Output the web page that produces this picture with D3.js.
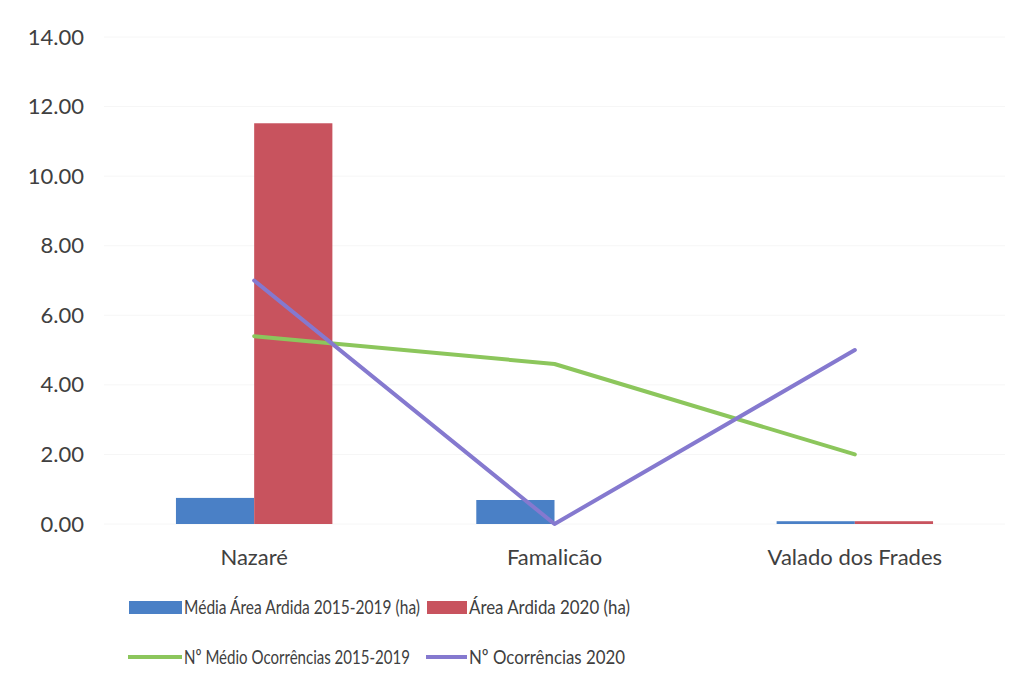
<!DOCTYPE html>
<html>
<head>
<meta charset="utf-8">
<script src="https://cdn.jsdelivr.net/npm/d3@7"></script>
<style>
  html, body { margin: 0; padding: 0; background: #fff; }
  svg { display: block; }
  text { font-family: Lato, "Open Sans", sans-serif; fill: #404040; }
</style>
</head>
<body>
<svg id="chart" width="1023" height="680"></svg>
<script>
// Locations along the x axis
const categories = ["Nazaré", "Famalicão", "Valado dos Frades"];

// Burnt area (ha)
const mediaAreaArdida = [0.75, 0.69, 0.08];
const areaArdida2020 = [11.52, 0.0, 0.08];

// Number of fire occurrences
const medioOcorrencias = [5.4, 4.6, 2.0];
const ocorrencias2020 = [7, 0, 5];

const yTicks = [0, 2, 4, 6, 8, 10, 12, 14];

const barSeries = [
  { name: "Média Área Ardida 2015-2019 (ha)", values: mediaAreaArdida, color: "#4a80c6" },
  { name: "Área Ardida 2020 (ha)", values: areaArdida2020, color: "#c8535e" }
];
const lineSeries = [
  { name: "Nº Médio Ocorrências 2015-2019", values: medioOcorrencias, color: "#8cc65c" },
  { name: "Nº Ocorrências 2020", values: ocorrencias2020, color: "#8579cf" }
];

const svg = d3.select("#chart");
const plot = { left: 104, right: 1005, top: 37, bottom: 524 };

const x = d3.scaleBand().domain(categories).range([plot.left, plot.right]);
const xInner = d3.scaleBand().domain(barSeries.map(s => s.name))
  .range([0, x.bandwidth()]).paddingInner(0).paddingOuter(0.92);
const y = d3.scaleLinear().domain([0, 14]).range([plot.bottom, plot.top]);

// Horizontal gridlines
svg.append("g").selectAll("line").data(yTicks).join("line")
  .attr("x1", plot.left).attr("x2", plot.right)
  .attr("y1", d => y(d)).attr("y2", d => y(d))
  .attr("stroke", "#f6f6f6").attr("stroke-width", 1);

// Y axis labels
const yAxis = d3.axisLeft(y).tickValues(yTicks).tickFormat(d3.format(".2f")).tickSize(0).tickPadding(0);
const gy = svg.append("g").attr("transform", `translate(84,0)`).call(yAxis);
gy.select(".domain").remove();
gy.selectAll("text").style("font-family", "Lato, sans-serif").style("font-size", "22px").attr("fill", "#404040");

// X axis labels
const xAxis = d3.axisBottom(x).tickSize(0).tickPadding(0);
const gx = svg.append("g").attr("transform", `translate(0,${plot.bottom + 25})`).call(xAxis);
gx.select(".domain").remove();
gx.selectAll("text").style("font-family", "Lato, sans-serif").style("font-size", "22px").attr("fill", "#404040");

// Bars
barSeries.forEach(s => {
  svg.append("g").selectAll("rect").data(categories).join("rect")
    .attr("x", (c) => x(c) + xInner(s.name))
    .attr("width", xInner.bandwidth())
    .attr("y", (c, i) => y(s.values[i]))
    .attr("height", (c, i) => Math.max(0, y(0) - y(s.values[i])))
    .attr("fill", s.color);
});

// Lines
const line = d3.line()
  .x((d, i) => x(categories[i]) + x.bandwidth() / 2)
  .y(d => y(d));
lineSeries.forEach(s => {
  svg.append("path").datum(s.values)
    .attr("d", line)
    .attr("fill", "none")
    .attr("stroke", s.color)
    .attr("stroke-width", 4)
    .attr("stroke-linejoin", "round")
    .attr("stroke-linecap", "round");
});

// Legend (two rows: bar series, then line series)
const legendRows = [
  [{ s: barSeries[0], type: "bar", x: 129, tx: 184, w: 236 }, { s: barSeries[1], type: "bar", x: 427, tx: 469, w: 161 }],
  [{ s: lineSeries[0], type: "line", x: 128, tx: 184, w: 226 }, { s: lineSeries[1], type: "line", x: 426, tx: 469, w: 156 }]
];
const rowY = [607, 657];
legendRows.forEach((row, r) => {
  row.forEach(item => {
    const g = svg.append("g");
    const sw = item.tx - item.x - 2;
    if (item.type === "bar") {
      g.append("rect").attr("x", item.x).attr("y", rowY[r] - 6).attr("width", sw).attr("height", 13)
        .attr("fill", item.s.color);
    } else {
      g.append("line").attr("x1", item.x).attr("x2", item.x + sw)
        .attr("y1", rowY[r]).attr("y2", rowY[r])
        .attr("stroke", item.s.color).attr("stroke-width", 4);
    }
    g.append("text").attr("x", item.tx).attr("y", rowY[r]).attr("dy", "0.35em")
      .attr("textLength", item.w).attr("lengthAdjust", "spacingAndGlyphs")
      .style("font-size", "20px").text(item.s.name);
  });
});
</script>
</body>
</html>
